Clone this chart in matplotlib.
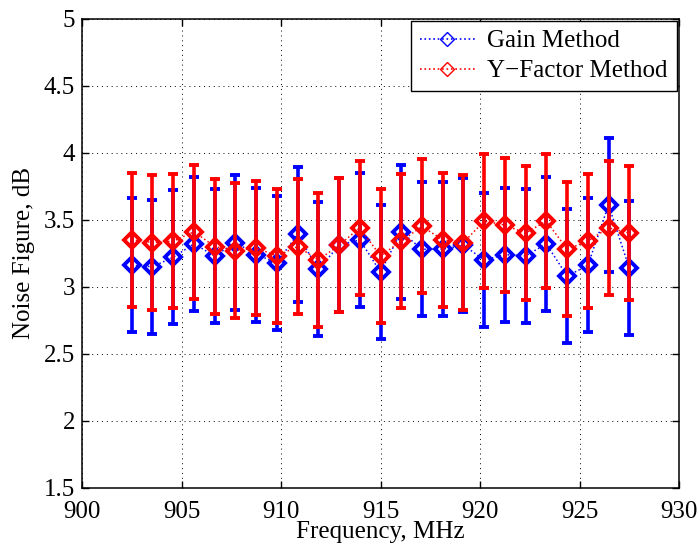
import matplotlib
matplotlib.use('Agg')
import matplotlib.pyplot as plt
from matplotlib.lines import Line2D
import numpy as np

# frequencies (MHz) and noise figures (dB)
freq = [902.50, 903.54, 904.58, 905.63, 906.67, 907.71, 908.75, 909.79,
        910.83, 911.88, 912.92, 913.96, 915.00, 916.04, 917.08, 918.13,
        919.17, 920.21, 921.25, 922.29, 923.33, 924.38, 925.42, 926.46,
        927.50]
gain_nf = [3.16, 3.15, 3.22, 3.32, 3.23, 3.33, 3.24, 3.18, 3.39, 3.13,
           3.31, 3.35, 3.11, 3.41, 3.28, 3.28, 3.31, 3.20, 3.24, 3.23,
           3.32, 3.08, 3.16, 3.61, 3.14]
yfac_nf = [3.35, 3.33, 3.34, 3.41, 3.30, 3.27, 3.29, 3.23, 3.30, 3.20,
           3.31, 3.44, 3.23, 3.34, 3.45, 3.35, 3.33, 3.49, 3.46, 3.40,
           3.49, 3.28, 3.34, 3.44, 3.40]
gain_err = [0.5] * len(freq)
yfac_err = [0.5] * len(freq)

plt.rcParams['font.family'] = ['Liberation Serif', 'DejaVu Serif']
plt.rcParams['font.size'] = 18
plt.rcParams['axes.unicode_minus'] = True

fig = plt.figure(figsize=(7, 5.48), dpi=100)
ax = fig.add_axes([82 / 700, 1 - 488 / 548, (679 - 82) / 700, (488 - 18.5) / 548])

blue = (0, 0, 1)
red = (1, 0, 0)

ax.errorbar(freq, gain_nf, yerr=gain_err, fmt=':D', color=blue, lw=1.1,
            ms=8.5, mfc='none', mew=2.8, elinewidth=2.6, capsize=3.5,
            capthick=2.6, zorder=3)
ax.errorbar(freq, yfac_nf, yerr=yfac_err, fmt=':D', color=red, lw=1.1,
            ms=8.5, mfc='none', mew=2.8, elinewidth=2.6, capsize=3.5,
            capthick=2.6, zorder=4)

ax.set_xlim(900, 930)
ax.set_ylim(1.5, 5)
ax.set_xticks(np.arange(900, 931, 5))
ax.set_yticks(np.arange(1.5, 5.01, 0.5))
ax.set_yticklabels(['1.5', '2', '2.5', '3', '3.5', '4', '4.5', '5'])
ax.grid(True, color='k', linestyle=(0, (1, 4)), linewidth=0.7)
ax.set_axisbelow(True)
ax.tick_params(direction='in', length=5, width=1, top=True, right=True)
ax.tick_params(axis='x', pad=9)
ax.tick_params(axis='y', pad=5)
for s in ax.spines.values():
    s.set_linewidth(1.1)

ax.set_xlabel('Frequency, MHz', labelpad=0)
ax.xaxis.set_label_coords(0.5, -0.07)
ax.set_ylabel('Noise Figure, dB', labelpad=6)

handles = [
    Line2D([], [], color=blue, ls=':', lw=1.2, marker='D', ms=7,
           mfc='none', mew=1.0),
    Line2D([], [], color=red, ls=':', lw=1.2, marker='D', ms=7,
           mfc='none', mew=1.0),
]
leg = ax.legend(handles, ['Gain Method', 'Y\u2212Factor Method'],
                loc='upper right', borderaxespad=0.1, fancybox=False,
                framealpha=1, edgecolor='k', handlelength=2.2,
                borderpad=0.35, labelspacing=0.3, handletextpad=0.5)
leg.get_frame().set_linewidth(1.0)

fig.savefig('out.png', dpi=100)
